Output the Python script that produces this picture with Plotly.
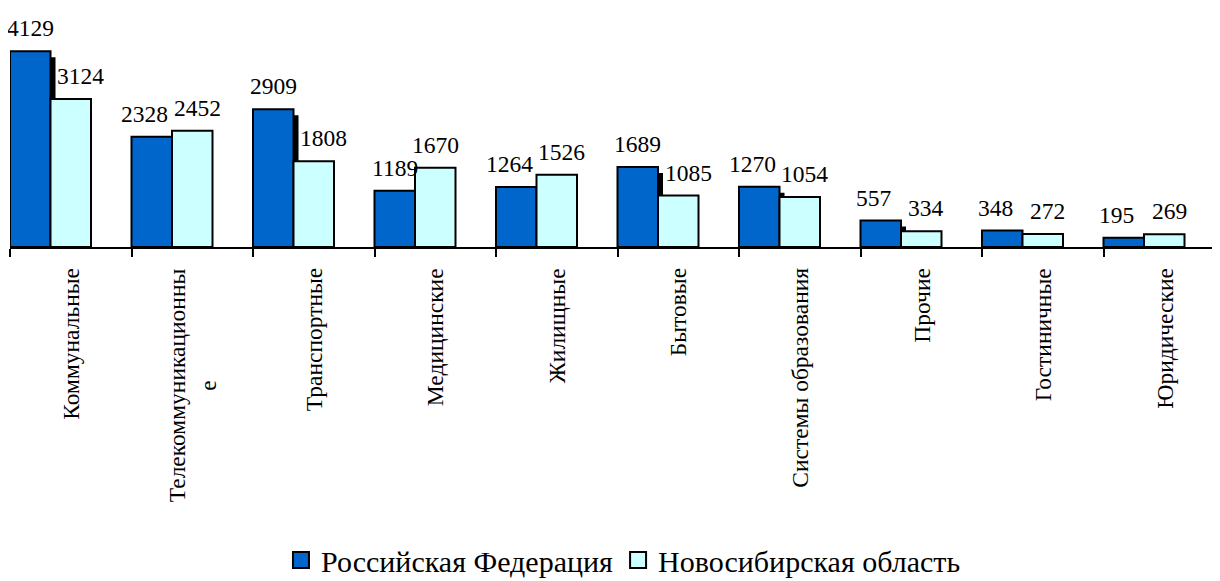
import plotly.graph_objects as go

categories = ["Коммунальные", "Телекоммуникационны<br>е", "Транспортные", "Медицинские",
              "Жилищные", "Бытовые", "Системы образования", "Прочие", "Гостиничные", "Юридические"]
rf_values = [4129, 2328, 2909, 1189, 1264, 1689, 1270, 557, 348, 195]
nso_values = [3124, 2452, 1808, 1670, 1526, 1085, 1054, 334, 272, 269]
series_names = ["Российская Федерация", "Новосибирская область"]

# style
W, H = 1212, 573          # page body has an 8px margin
ML, MR, MT, MB = 2, 0, 21, 334
CAT_PX = 121.5
Y_MAX = 4600
BAR_W = 1 / 3
BLUE = "#0066CC"
CYAN = "#CCFFFF"
FONT = "Liberation Serif"
LABEL_SIZE = 23.5
LEGEND_SIZE = 30
SHADOW_DX_PX, SHADOW_DY_PX = 5, 6
LABEL_LIFT_PX = 23

plot_w = W - ML - MR
plot_h = H - MT - MB
x_span = plot_w / CAT_PX
y_per_px = Y_MAX / plot_h

idx = list(range(len(categories)))

fig = go.Figure()
# shadow behind the RF bars
fig.add_trace(go.Bar(
    x=idx, y=[max(v - SHADOW_DY_PX * y_per_px, 0) for v in rf_values],
    offset=-0.5 + SHADOW_DX_PX / CAT_PX, width=BAR_W,
    marker=dict(color="black", line=dict(width=0)),
    showlegend=False, hoverinfo="skip"))
fig.add_trace(go.Bar(
    x=idx, y=rf_values, name=series_names[0], offset=-0.5, width=BAR_W,
    marker=dict(color=BLUE, line=dict(color="black", width=2)), showlegend=False))
fig.add_trace(go.Bar(
    x=idx, y=nso_values, name=series_names[1], offset=-0.5 + BAR_W, width=BAR_W,
    marker=dict(color=CYAN, line=dict(color="black", width=2)), showlegend=False))

# legend entries (square swatches)
for name, col in zip(series_names, [BLUE, CYAN]):
    fig.add_trace(go.Scatter(
        x=[None], y=[None], mode="markers", name=name,
        marker=dict(symbol="square", size=16, color=col, line=dict(color="black", width=2))))

for i in idx:
    rf, ns = rf_values[i], nso_values[i]
    collide = abs(rf - ns) / y_per_px < 16
    rf_dx = -7 if collide else 0
    ns_dx = 5 if collide else (10 if rf > ns else 0)
    fig.add_annotation(x=i - 0.5 + BAR_W / 2, y=rf, text=str(rf),
                       showarrow=False, yanchor="middle", yshift=LABEL_LIFT_PX, xshift=rf_dx,
                       font=dict(family=FONT, size=LABEL_SIZE, color="black"))
    fig.add_annotation(x=i - 0.5 + 1.5 * BAR_W, y=ns, text=str(ns),
                       showarrow=False, yanchor="middle", yshift=LABEL_LIFT_PX, xshift=ns_dx,
                       font=dict(family=FONT, size=LABEL_SIZE, color="black"))
    # category label, rotated, lines centred on each other
    fig.add_annotation(x=i, xref="x", y=0, yref="paper", text=categories[i],
                       showarrow=False, textangle=-90, align="center",
                       xanchor="center", yanchor="top", yshift=-19,
                       font=dict(family=FONT, size=LABEL_SIZE, color="black"))

fig.update_layout(
    width=W, height=H,
    margin=dict(l=ML, r=MR, t=MT, b=MB, autoexpand=False),
    barmode="overlay",
    paper_bgcolor="white", plot_bgcolor="white",
    font=dict(family=FONT, size=LABEL_SIZE, color="black"),
    xaxis=dict(
        range=[-0.5, -0.5 + x_span], automargin=False,
        tickmode="array", tickvals=idx, ticktext=categories,
        showticklabels=False, ticks="",
        showline=True, linecolor="black", linewidth=2,
        showgrid=False, zeroline=False,
        minor=dict(tickmode="array", tickvals=[i - 0.5 for i in range(len(categories) + 1)],
                   ticks="outside", ticklen=8, tickwidth=2, tickcolor="black", showgrid=False),
    ),
    yaxis=dict(range=[0, Y_MAX], visible=False, fixedrange=True),
    legend=dict(orientation="h", x=0.507, xanchor="center", y=-(552 - (H - MB)) / plot_h,
                yanchor="middle", font=dict(family=FONT, size=LEGEND_SIZE, color="black"),
                itemsizing="trace", traceorder="normal"),
)

fig.write_html("out.html")
